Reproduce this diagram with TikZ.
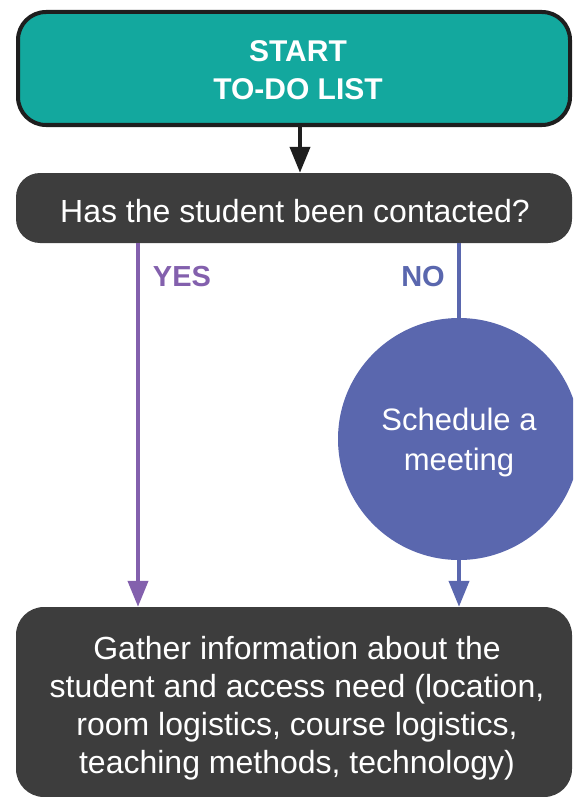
\documentclass[tikz,border=0pt]{standalone}
\usepackage{fontspec}
\setmainfont{Liberation Sans}
\usetikzlibrary{arrows.meta}
\definecolor{teal1}{HTML}{13A89E}
\definecolor{dark1}{HTML}{3D3D3D}
\definecolor{purp1}{HTML}{8360AD}
\definecolor{blue1}{HTML}{5A67AE}
\definecolor{edge1}{HTML}{1E1E1E}
\tikzset{
  box/.style={rounded corners=28pt, minimum width=556pt, inner sep=0pt},
  txt/.style={text=white, align=center, inner sep=0pt},
  flow/.style={line width=4pt, -{Triangle[length=26pt,width=20pt]}},
  plain/.style={line width=4pt},
  lbl/.style={font=\fontsize{29}{34}\selectfont\bfseries, inner sep=0pt}
}
\begin{document}
\begin{tikzpicture}[x=1pt,y=-1pt]
\useasboundingbox (0,0) rectangle (573,797);
\clip (0,0) rectangle (573,797);
\node[box, fill=teal1, draw=edge1, line width=4pt, minimum width=552pt, minimum height=113pt] (start) at (294,68.5) {};
\node[txt, font=\fontsize{30}{38}\selectfont\bfseries] (startt) at ([xshift=4pt,yshift=-2pt]start.center) {START\\TO-DO LIST};
\node[box, fill=dark1, minimum height=70pt, rounded corners=24pt] (q) at (294,208) {};
\node[txt, font=\fontsize{32}{38}\selectfont] (qt) at ([xshift=1pt,yshift=-3pt]q.center) {Has the student been contacted?};
\node[box, fill=dark1, minimum height=190pt] (g) at (294,702) {};
\node[txt, font=\fontsize{32}{38}\selectfont] (gt) at ([xshift=3pt,yshift=-6pt]g.center)
  {Gather information about the\\student and access need (location,\\room logistics, course logistics,\\teaching methods, technology)};
\node[circle, fill=blue1, minimum size=242pt, inner sep=0pt] (s) at (459,439) {};
\node[txt, font=\fontsize{31}{40}\selectfont] (st) at ([yshift=-3pt]s.center) {Schedule a\\meeting};
\coordinate (yx) at (138,0);
\coordinate (sx) at (300,0);
\draw[flow, draw=edge1, fill=edge1] (start.south -| sx) -- (q.north -| sx);
\draw[flow, draw=purp1, fill=purp1] (q.south -| yx) -- (g.north -| yx);
\draw[plain, draw=blue1] (q.south -| s.north) -- (s.north);
\draw[flow, draw=blue1, fill=blue1] (s.south) -- (g.north -| s.south);
\node[lbl, text=purp1] (yes) at (182,277) {YES};
\node[lbl, text=blue1] (no) at (423,277) {NO};
\end{tikzpicture}
\end{document}
